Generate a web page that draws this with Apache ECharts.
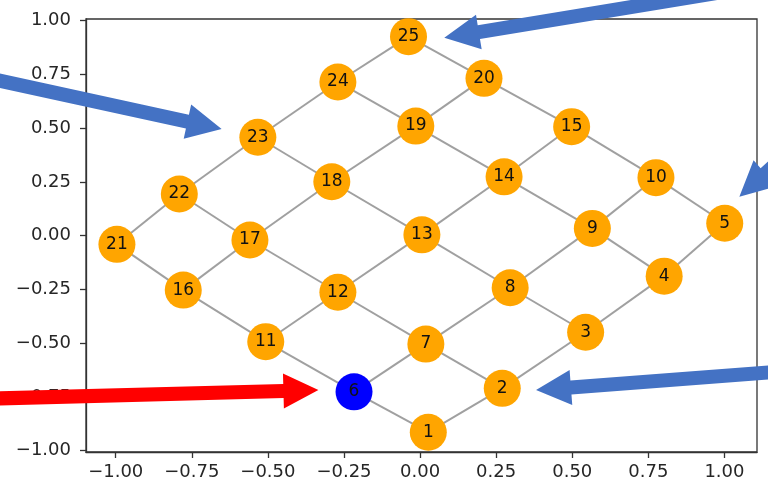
<!DOCTYPE html>
<html>
<head>
<meta charset="utf-8">
<script src="https://cdn.jsdelivr.net/npm/echarts@6/dist/echarts.min.js"></script>
<style>
html,body{margin:0;padding:0;background:#fff;}
#main{width:768px;height:490px;}
</style>
</head>
<body>
<div id="main"></div>
<script>
// ---- data ----
const nodeNames = ['1','2','3','4','5','6','7','8','9','10','11','12','13','14','15','16','17','18','19','20','21','22','23','24','25'];
const nodeX = [0.027, 0.270, 0.544, 0.802, 1.001, -0.217, 0.019, 0.296, 0.566, 0.775, -0.507, -0.270, 0.006, 0.276, 0.498, -0.778, -0.559, -0.290, -0.014, 0.210, -0.996, -0.791, -0.533, -0.270, -0.038];
const nodeY = [-0.914, -0.710, -0.449, -0.188, 0.058, -0.726, -0.504, -0.242, 0.034, 0.270, -0.493, -0.263, 0.004, 0.274, 0.507, -0.253, -0.020, 0.251, 0.510, 0.732, -0.040, 0.194, 0.458, 0.715, 0.926];
const highlightNode = '6';
const edges = [
  ['1','2'],['2','3'],['3','4'],['4','5'],
  ['6','7'],['7','8'],['8','9'],['9','10'],
  ['11','12'],['12','13'],['13','14'],['14','15'],
  ['16','17'],['17','18'],['18','19'],['19','20'],
  ['21','22'],['22','23'],['23','24'],['24','25'],
  ['1','6'],['6','11'],['11','16'],['16','21'],
  ['2','7'],['7','12'],['12','17'],['17','22'],
  ['3','8'],['8','13'],['13','18'],['18','23'],
  ['4','9'],['9','14'],['14','19'],['19','24'],
  ['5','10'],['10','15'],['15','20'],['20','25']
];
const xTicks = [-1.00, -0.75, -0.50, -0.25, 0.00, 0.25, 0.50, 0.75, 1.00];
const yTicks = [-1.00, -0.75, -0.50, -0.25, 0.00, 0.25, 0.50, 0.75, 1.00];
// annotation arrows in data units: [tailX, tailY, tipX, tipY]
const arrowTails = [[-1.446, 0.741], [1.117, 1.162], [1.293, 0.493], [1.248, -0.625], [-1.446, -0.759]];
const arrowTips  = [[-0.652, 0.496], [0.0796, 0.921], [1.049, 0.181], [0.381, -0.718], [-0.334, -0.718]];
const arrowColors = ['#4472C4', '#4472C4', '#4472C4', '#4472C4', '#FF0000'];

// ---- chart ----
const chart = echarts.init(document.getElementById('main'), null, {renderer:'canvas'});
const fmt = v => {
  const s = Math.abs(v).toFixed(2);
  return v < -1e-9 ? '\u2212' + s : s;
};
const FONT = 'DejaVu Sans';
const nodes = nodeNames.map((n, i) => ({
  name: n,
  value: [nodeX[i], nodeY[i]],
  itemStyle: { color: n === highlightNode ? '#0000FF' : '#FFA500' }
}));
const links = edges.map(e => ({ source: e[0], target: e[1] }));

chart.setOption({
  animation: false,
  backgroundColor: '#ffffff',
  grid: { left: 86, top: 19, right: 11, bottom: 38, show: true, borderColor: '#333', borderWidth: 1.3, backgroundColor: 'transparent' },
  xAxis: {
    type: 'value', min: -1.0976, max: 1.107,
    splitLine: { show: false },
    axisLine: { show: true, onZero: false, lineStyle: { color: '#333', width: 1.3 } },
    axisTick: { show: true, customValues: xTicks, length: 6, lineStyle: { color: '#333', width: 1.3 } },
    axisLabel: { customValues: xTicks, formatter: fmt, margin: 11, fontFamily: FONT, fontSize: 18, color: '#262626' }
  },
  yAxis: {
    type: 'value', min: -1.006, max: 1.008,
    splitLine: { show: false },
    axisLine: { show: true, onZero: false, lineStyle: { color: '#333', width: 1.3 } },
    axisTick: { show: true, customValues: yTicks, length: 6, lineStyle: { color: '#333', width: 1.3 } },
    axisLabel: { customValues: yTicks, formatter: fmt, margin: 15, fontFamily: FONT, fontSize: 18, color: '#262626' }
  },
  series: [{
    type: 'graph',
    coordinateSystem: 'cartesian2d',
    layout: 'none',
    symbol: 'circle',
    symbolSize: 37,
    data: nodes,
    links: links,
    lineStyle: { color: '#a0a0a0', width: 2, opacity: 1, curveness: 0 },
    label: { show: true, position: 'inside', fontFamily: FONT, fontSize: 17, color: '#111' },
    emphasis: { disabled: true },
    z: 2
  }]
});

// arrows (annotations) positioned through the chart's coordinate conversion
const graphics = [];
const shaftHalf = 7, headLen = 35, headHalf = 17.5;
for (let i = 0; i < arrowTails.length; i++) {
  const t = chart.convertToPixel({ gridIndex: 0 }, arrowTails[i]);
  const p = chart.convertToPixel({ gridIndex: 0 }, arrowTips[i]);
  const dx = p[0] - t[0], dy = p[1] - t[1];
  const L = Math.hypot(dx, dy);
  const ux = dx / L, uy = dy / L;
  const nx = -uy, ny = ux;
  const bx = p[0] - ux * headLen, by = p[1] - uy * headLen;
  const pts = [
    [t[0] + nx * shaftHalf, t[1] + ny * shaftHalf],
    [bx + nx * shaftHalf, by + ny * shaftHalf],
    [bx + nx * headHalf, by + ny * headHalf],
    [p[0], p[1]],
    [bx - nx * headHalf, by - ny * headHalf],
    [bx - nx * shaftHalf, by - ny * shaftHalf],
    [t[0] - nx * shaftHalf, t[1] - ny * shaftHalf]
  ];
  graphics.push({ type: 'polygon', shape: { points: pts }, style: { fill: arrowColors[i] }, z: 100, silent: true });
}
chart.setOption({ graphic: graphics });
</script>
</body>
</html>
